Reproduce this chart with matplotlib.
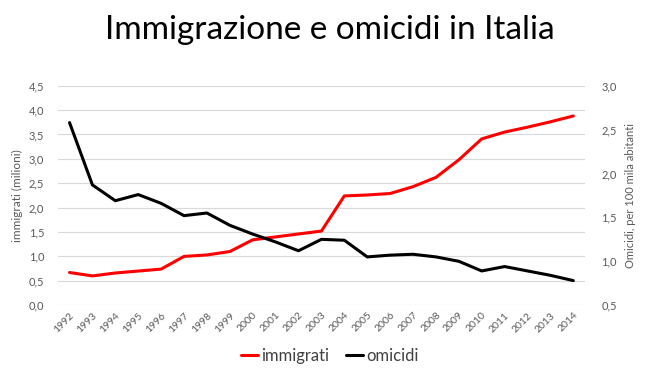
import matplotlib.pyplot as plt
from matplotlib.ticker import FuncFormatter

anni = [str(a) for a in range(1992, 2015)]
immigrati = [0.67, 0.60, 0.66, 0.70, 0.74, 1.00, 1.03, 1.10, 1.34, 1.40, 1.46, 1.52,
             2.24, 2.26, 2.29, 2.43, 2.62, 2.98, 3.41, 3.55, 3.65, 3.76, 3.88]
omicidi = [2.58, 1.87, 1.69, 1.76, 1.66, 1.52, 1.55, 1.41, 1.31, 1.22, 1.12, 1.25,
           1.24, 1.05, 1.07, 1.08, 1.05, 1.00, 0.89, 0.94, 0.89, 0.84, 0.78]

plt.rcParams['font.family'] = ['Lato', 'DejaVu Sans']
grigio = '#595959'

def virgola(v, pos):
    return ('%.1f' % v).replace('.', ',')

fig = plt.figure(figsize=(6.6, 3.81), dpi=100)
ax = fig.add_axes([0.088, 0.199, 0.798, 0.576])
ax2 = ax.twinx()

x = list(range(len(anni)))
l1, = ax.plot(x, immigrati, color='#ff0000', lw=2.2, label='immigrati', solid_capstyle='round')
l2, = ax2.plot(x, omicidi, color='black', lw=2.2, label='omicidi', solid_capstyle='round')

ax.set_xlim(-0.5, len(anni) - 0.5)
ax.set_ylim(0, 4.5)
ax.set_yticks([i * 0.5 for i in range(10)])
ax2.set_ylim(0.5, 3.0)
ax2.set_yticks([0.5, 1.0, 1.5, 2.0, 2.5, 3.0])
ax.yaxis.set_major_formatter(FuncFormatter(virgola))
ax2.yaxis.set_major_formatter(FuncFormatter(virgola))
ax.grid(axis='y', color='#d9d9d9', lw=0.8)
ax.set_axisbelow(True)

ax.set_xticks(x)
ax.set_xticklabels(anni, rotation=45, ha='right', rotation_mode='anchor')
for a in (ax, ax2):
    for s in a.spines.values():
        s.set_visible(False)
    a.tick_params(length=0, colors=grigio, labelsize=8)
ax.tick_params(axis='x', labelsize=7.5, pad=4)
ax.tick_params(axis='y', pad=10)
ax2.tick_params(axis='y', pad=12)

ax.set_ylabel('immigrati (milioni)', color=grigio, fontsize=8.5, labelpad=4)
ax2.set_ylabel('Omicidi, per 100 mila abitanti', color=grigio, fontsize=8, labelpad=6)

fig.suptitle('Immigrazione e omicidi in Italia', fontsize=24, y=0.96)
fig.legend(handles=[l1, l2], loc='center', bbox_to_anchor=(0.5, 0.065), ncol=2,
           frameon=False, fontsize=12, handlelength=1.0, handletextpad=0.2,
           columnspacing=1.0, labelcolor='#404040')

fig.savefig('out.png', dpi=100)
